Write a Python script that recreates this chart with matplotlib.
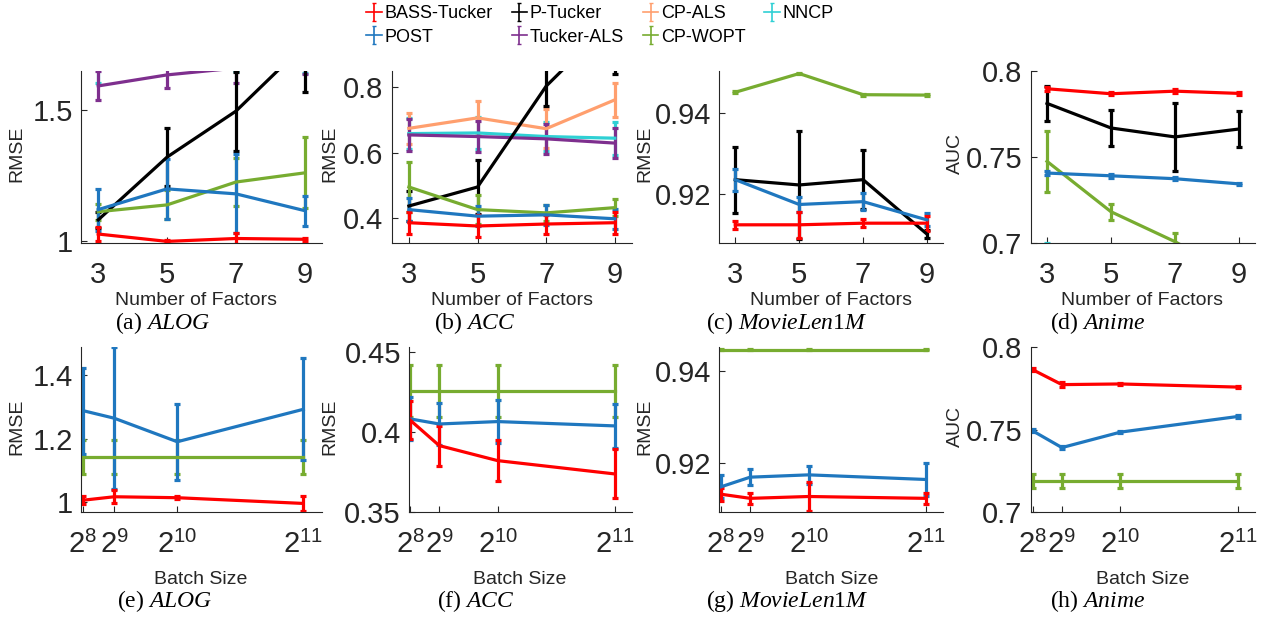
import numpy as np
import matplotlib
matplotlib.use("Agg")
import matplotlib.pyplot as plt

plt.rcParams['font.family'] = ['Liberation Sans', 'DejaVu Sans']
plt.rcParams['mathtext.fontset'] = 'custom'
plt.rcParams['mathtext.rm'] = 'Liberation Sans'
plt.rcParams['mathtext.it'] = 'Liberation Serif:italic'

W, H = 1265, 618
nan = np.nan

# ---------------- data ----------------
factors = [3, 5, 7, 9]
batch = [256, 512, 1024, 2048]
batch_labels = [r'$2^{8}$', r'$2^{9}$', r'$2^{10}$', r'$2^{11}$']

methods = ["BASS-Tucker", "POST", "P-Tucker", "Tucker-ALS", "CP-ALS", "CP-WOPT", "NNCP"]
colors = {
    "BASS-Tucker": "#FF0000",
    "POST": "#1F77BF",
    "P-Tucker": "#000000",
    "Tucker-ALS": "#7E2F8E",
    "CP-ALS": "#FF9F6E",
    "CP-WOPT": "#77AC30",
    "NNCP": "#2FD0D4",
}
draw_order = ["NNCP", "CP-ALS", "Tucker-ALS", "P-Tucker", "CP-WOPT", "POST", "BASS-Tucker"]

# method -> (mean, std)
alog_rank = {
    "BASS-Tucker": ([1.028, 1.000, 1.011, 1.008], [0.025, 0.007, 0.020, 0.005]),
    "POST": ([1.121, 1.200, 1.181, 1.117], [0.080, 0.115, 0.150, 0.057]),
    "P-Tucker": ([1.082, 1.321, 1.496, 1.750], [0.030, 0.110, 0.150, 0.180]),
    "Tucker-ALS": ([1.592, 1.634, 1.660, 1.700], [0.055, 0.050, 0.058, 0.062]),
    "CP-ALS": ([nan, nan, nan, nan], [nan, nan, nan, nan]),
    "CP-WOPT": ([1.113, 1.139, 1.226, 1.261], [0.030, 0.055, 0.090, 0.135]),
    "NNCP": ([1.680, 1.750, 1.720, 1.720], [0.078, 0.050, 0.073, 0.080]),
}
acc_rank = {
    "BASS-Tucker": ([0.386, 0.376, 0.382, 0.386], [0.034, 0.035, 0.029, 0.033]),
    "POST": ([0.426, 0.406, 0.410, 0.398], [0.035, 0.030, 0.030, 0.030]),
    "P-Tucker": ([0.437, 0.495, 0.803, 1.010], [0.045, 0.083, 0.060, 0.170]),
    "Tucker-ALS": ([0.654, 0.649, 0.642, 0.629], [0.048, 0.048, 0.046, 0.046]),
    "CP-ALS": ([0.674, 0.706, 0.673, 0.761], [0.048, 0.052, 0.060, 0.052]),
    "CP-WOPT": ([0.495, 0.426, 0.416, 0.432], [0.076, 0.045, 0.024, 0.026]),
    "NNCP": ([0.658, 0.660, 0.649, 0.644], [0.048, 0.048, 0.045, 0.050]),
}
movie_rank = {
    "BASS-Tucker": ([0.9124, 0.9124, 0.9128, 0.9128], [0.0010, 0.0032, 0.0010, 0.0018]),
    "POST": ([0.9235, 0.9174, 0.9181, 0.9136], [0.0027, 0.0018, 0.0020, 0.0016]),
    "P-Tucker": ([0.9235, 0.9222, 0.9235, 0.9101], [0.0081, 0.0132, 0.0073, 0.0010]),
    "Tucker-ALS": ([nan, nan, nan, nan], [nan, nan, nan, nan]),
    "CP-ALS": ([nan, nan, nan, nan], [nan, nan, nan, nan]),
    "CP-WOPT": ([0.9450, 0.9496, 0.9444, 0.9443], [0.0002, 0.0002, 0.0002, 0.0002]),
    "NNCP": ([nan, nan, nan, nan], [nan, nan, nan, nan]),
}
anime_rank = {
    "BASS-Tucker": ([0.7895, 0.7866, 0.7881, 0.7868], [0.0012, 0.0010, 0.0012, 0.0010]),
    "POST": ([0.7405, 0.7389, 0.7372, 0.7342], [0.0010, 0.0010, 0.0010, 0.0008]),
    "P-Tucker": ([0.7810, 0.7667, 0.7615, 0.7661], [0.0100, 0.0105, 0.0200, 0.0105]),
    "Tucker-ALS": ([nan, nan, nan, nan], [nan, nan, nan, nan]),
    "CP-ALS": ([nan, nan, nan, nan], [nan, nan, nan, nan]),
    "CP-WOPT": ([0.7473, 0.7180, 0.7006, 0.6800], [0.0178, 0.0047, 0.0050, 0.0050]),
    "NNCP": ([0.6900, 0.6800, 0.6800, 0.6800], [0.0100, 0.0100, 0.0100, 0.0100]),
}
alog_batch = {
    "BASS-Tucker": ([1.006, 1.017, 1.014, 0.996], [0.013, 0.020, 0.005, 0.024]),
    "POST": ([1.288, 1.264, 1.190, 1.292], [0.135, 0.223, 0.120, 0.160]),
    "CP-WOPT": ([1.143, 1.143, 1.143, 1.143], [0.053, 0.053, 0.053, 0.053]),
}
acc_batch = {
    "BASS-Tucker": ([0.4073, 0.3913, 0.3819, 0.3736], [0.0120, 0.0125, 0.0130, 0.0153]),
    "POST": ([0.4080, 0.4048, 0.4063, 0.4036], [0.0135, 0.0130, 0.0135, 0.0135]),
    "CP-WOPT": ([0.4254, 0.4254, 0.4254, 0.4254], [0.0165, 0.0165, 0.0165, 0.0165]),
}
movie_batch = {
    "BASS-Tucker": ([0.9133, 0.9124, 0.9128, 0.9124], [0.0014, 0.0012, 0.0031, 0.0012]),
    "POST": ([0.9149, 0.9170, 0.9175, 0.9165], [0.0025, 0.0017, 0.0020, 0.0036]),
    "CP-WOPT": ([0.9447, 0.9447, 0.9447, 0.9447], [0.0001, 0.0001, 0.0001, 0.0001]),
}
anime_batch = {
    "BASS-Tucker": ([0.7864, 0.7773, 0.7777, 0.7758], [0.0010, 0.0015, 0.0008, 0.0008]),
    "POST": ([0.7492, 0.7390, 0.7484, 0.7579], [0.0010, 0.0010, 0.0008, 0.0010]),
    "CP-WOPT": ([0.7187, 0.7187, 0.7187, 0.7187], [0.0045, 0.0045, 0.0045, 0.0045]),
}


def fx(px):
    return px / W


def fy(py):
    return 1 - py / H


# (data, x, xlim, ylim, yticks, ylabels, ylabel, axis px box, ylabel x, xlabel x, caption, caption x)
panels = [
    (alog_rank, factors, (2.5, 9.5), (0.995, 1.65), [1, 1.5], ["1", "1.5"], "RMSE",
     (81, 322, 70.7, 242.7), 17, 196, ("(a) ", "ALOG"), 163),
    (acc_rank, factors, (2.5, 9.5), (0.325, 0.85), [0.4, 0.6, 0.8], ["0.4", "0.6", "0.8"], "RMSE",
     (391.7, 632, 70.7, 242.7), 330, 512, ("(b) ", "ACC"), 475),
    (movie_rank, factors, (2.5, 9.5), (0.908, 0.9503), [0.92, 0.94], ["0.92", "0.94"], "RMSE",
     (719.3, 943, 70.7, 242.7), 645, 831, ("(c) ", "MovieLen1M"), 787),
    (anime_rank, factors, (2.5, 9.5), (0.7, 0.8), [0.7, 0.75, 0.8], ["0.7", "0.75", "0.8"], "AUC",
     (1031, 1255, 70.7, 242.7), 955, 1142, ("(d) ", "Anime"), 1098),
    (alog_batch, batch, (242, 2200), (0.97, 1.487), [1, 1.2, 1.4], ["1", "1.2", "1.4"], "RMSE",
     (81, 322, 347.3, 511.7), 17, 201, ("(e) ", "ALOG"), 165),
    (acc_batch, batch, (250, 2200), (0.35, 0.4527), [0.35, 0.4, 0.45], ["0.35", "0.4", "0.45"], "RMSE",
     (409.3, 632, 347.3, 511.7), 330, 520, ("(f) ", "ACC"), 476),
    (movie_batch, batch, (242, 2200), (0.9095, 0.9452), [0.92, 0.94], ["0.92", "0.94"], "RMSE",
     (719.3, 943, 347.3, 511.7), 645, 832, ("(g) ", "MovieLen1M"), 787),
    (anime_batch, batch, (242, 2200), (0.7, 0.8), [0.7, 0.75, 0.8], ["0.7", "0.75", "0.8"], "AUC",
     (1031, 1255, 347.3, 511.7), 955, 1143, ("(h) ", "Anime"), 1098),
]

dark = "#262626"
fig = plt.figure(figsize=(W / 100, H / 100), dpi=100)

for k, (data, xs, xlim, ylim, yt, ytl, ylab, box, ylx, xlx, cap, capx) in enumerate(panels):
    x0, x1, y0, y1 = box
    ax = fig.add_axes([fx(x0), fy(y1), (x1 - x0) / W, (y1 - y0) / H])
    for m in draw_order:
        if m not in data:
            continue
        mean, err = data[m]
        ax.errorbar(xs, mean, yerr=err, color=colors[m], lw=2.3, elinewidth=2.3,
                    capsize=2.5, capthick=2.3)
    ax.set_xlim(*xlim)
    ax.set_ylim(*ylim)
    ax.set_yticks(yt)
    ax.set_yticklabels(ytl)
    top = k < 4
    if top:
        ax.set_xticks(factors)
        ax.set_xticklabels([str(v) for v in factors])
    else:
        ax.set_xticks(batch)
        ax.set_xticklabels(batch_labels)
    for s in ["top", "right"]:
        ax.spines[s].set_visible(False)
    for s in ["left", "bottom"]:
        ax.spines[s].set_color(dark)
        ax.spines[s].set_linewidth(0.8)
    ax.tick_params(direction="in", length=4, width=0.8, color=dark, labelcolor=dark, labelsize=21)
    ax.tick_params(axis="x", pad=13 if top else 14)
    ax.tick_params(axis="y", pad=6)

    cy = (y0 + y1) / 2 - 3
    fig.text(fx(ylx), fy(cy), ylab, rotation=90, ha="center", va="center", fontsize=14, color=dark)
    fig.text(fx(xlx), fy(305 if top else 583.5), "Number of Factors" if top else "Batch Size",
             ha="center", va="baseline", fontsize=14, color=dark)
    name = cap[1]
    if name == "MovieLen1M":
        name_tex = r"$\mathit{MovieLen}$1$\mathit{M}$"
    else:
        name_tex = r"$\mathit{%s}$" % name
    fig.text(fx(capx), fy(329 if top else 607), cap[0] + name_tex, ha="center", va="baseline",
             fontsize=17, family="Liberation Serif", color="black")

# thin legend handles, drawn on a hidden axes
hid = fig.add_axes([0, 0, 0.01, 0.01])
hid.set_visible(False)
leg_order = ["BASS-Tucker", "POST", "P-Tucker", "Tucker-ALS", "CP-ALS", "CP-WOPT", "NNCP"]
handles = [hid.errorbar([0], [0], yerr=[1], color=colors[m], lw=1.2, elinewidth=1.2,
                        capsize=1.5, capthick=1.0) for m in leg_order]
fig.legend(handles, leg_order, loc="center",
           bbox_to_anchor=(fx(600), fy(25.5)), ncol=4, frameon=False, fontsize=13,
           handlelength=0.85, handletextpad=0.15, columnspacing=1.05, labelspacing=0.35,
           borderpad=0)

fig.savefig("out.png", dpi=100)
